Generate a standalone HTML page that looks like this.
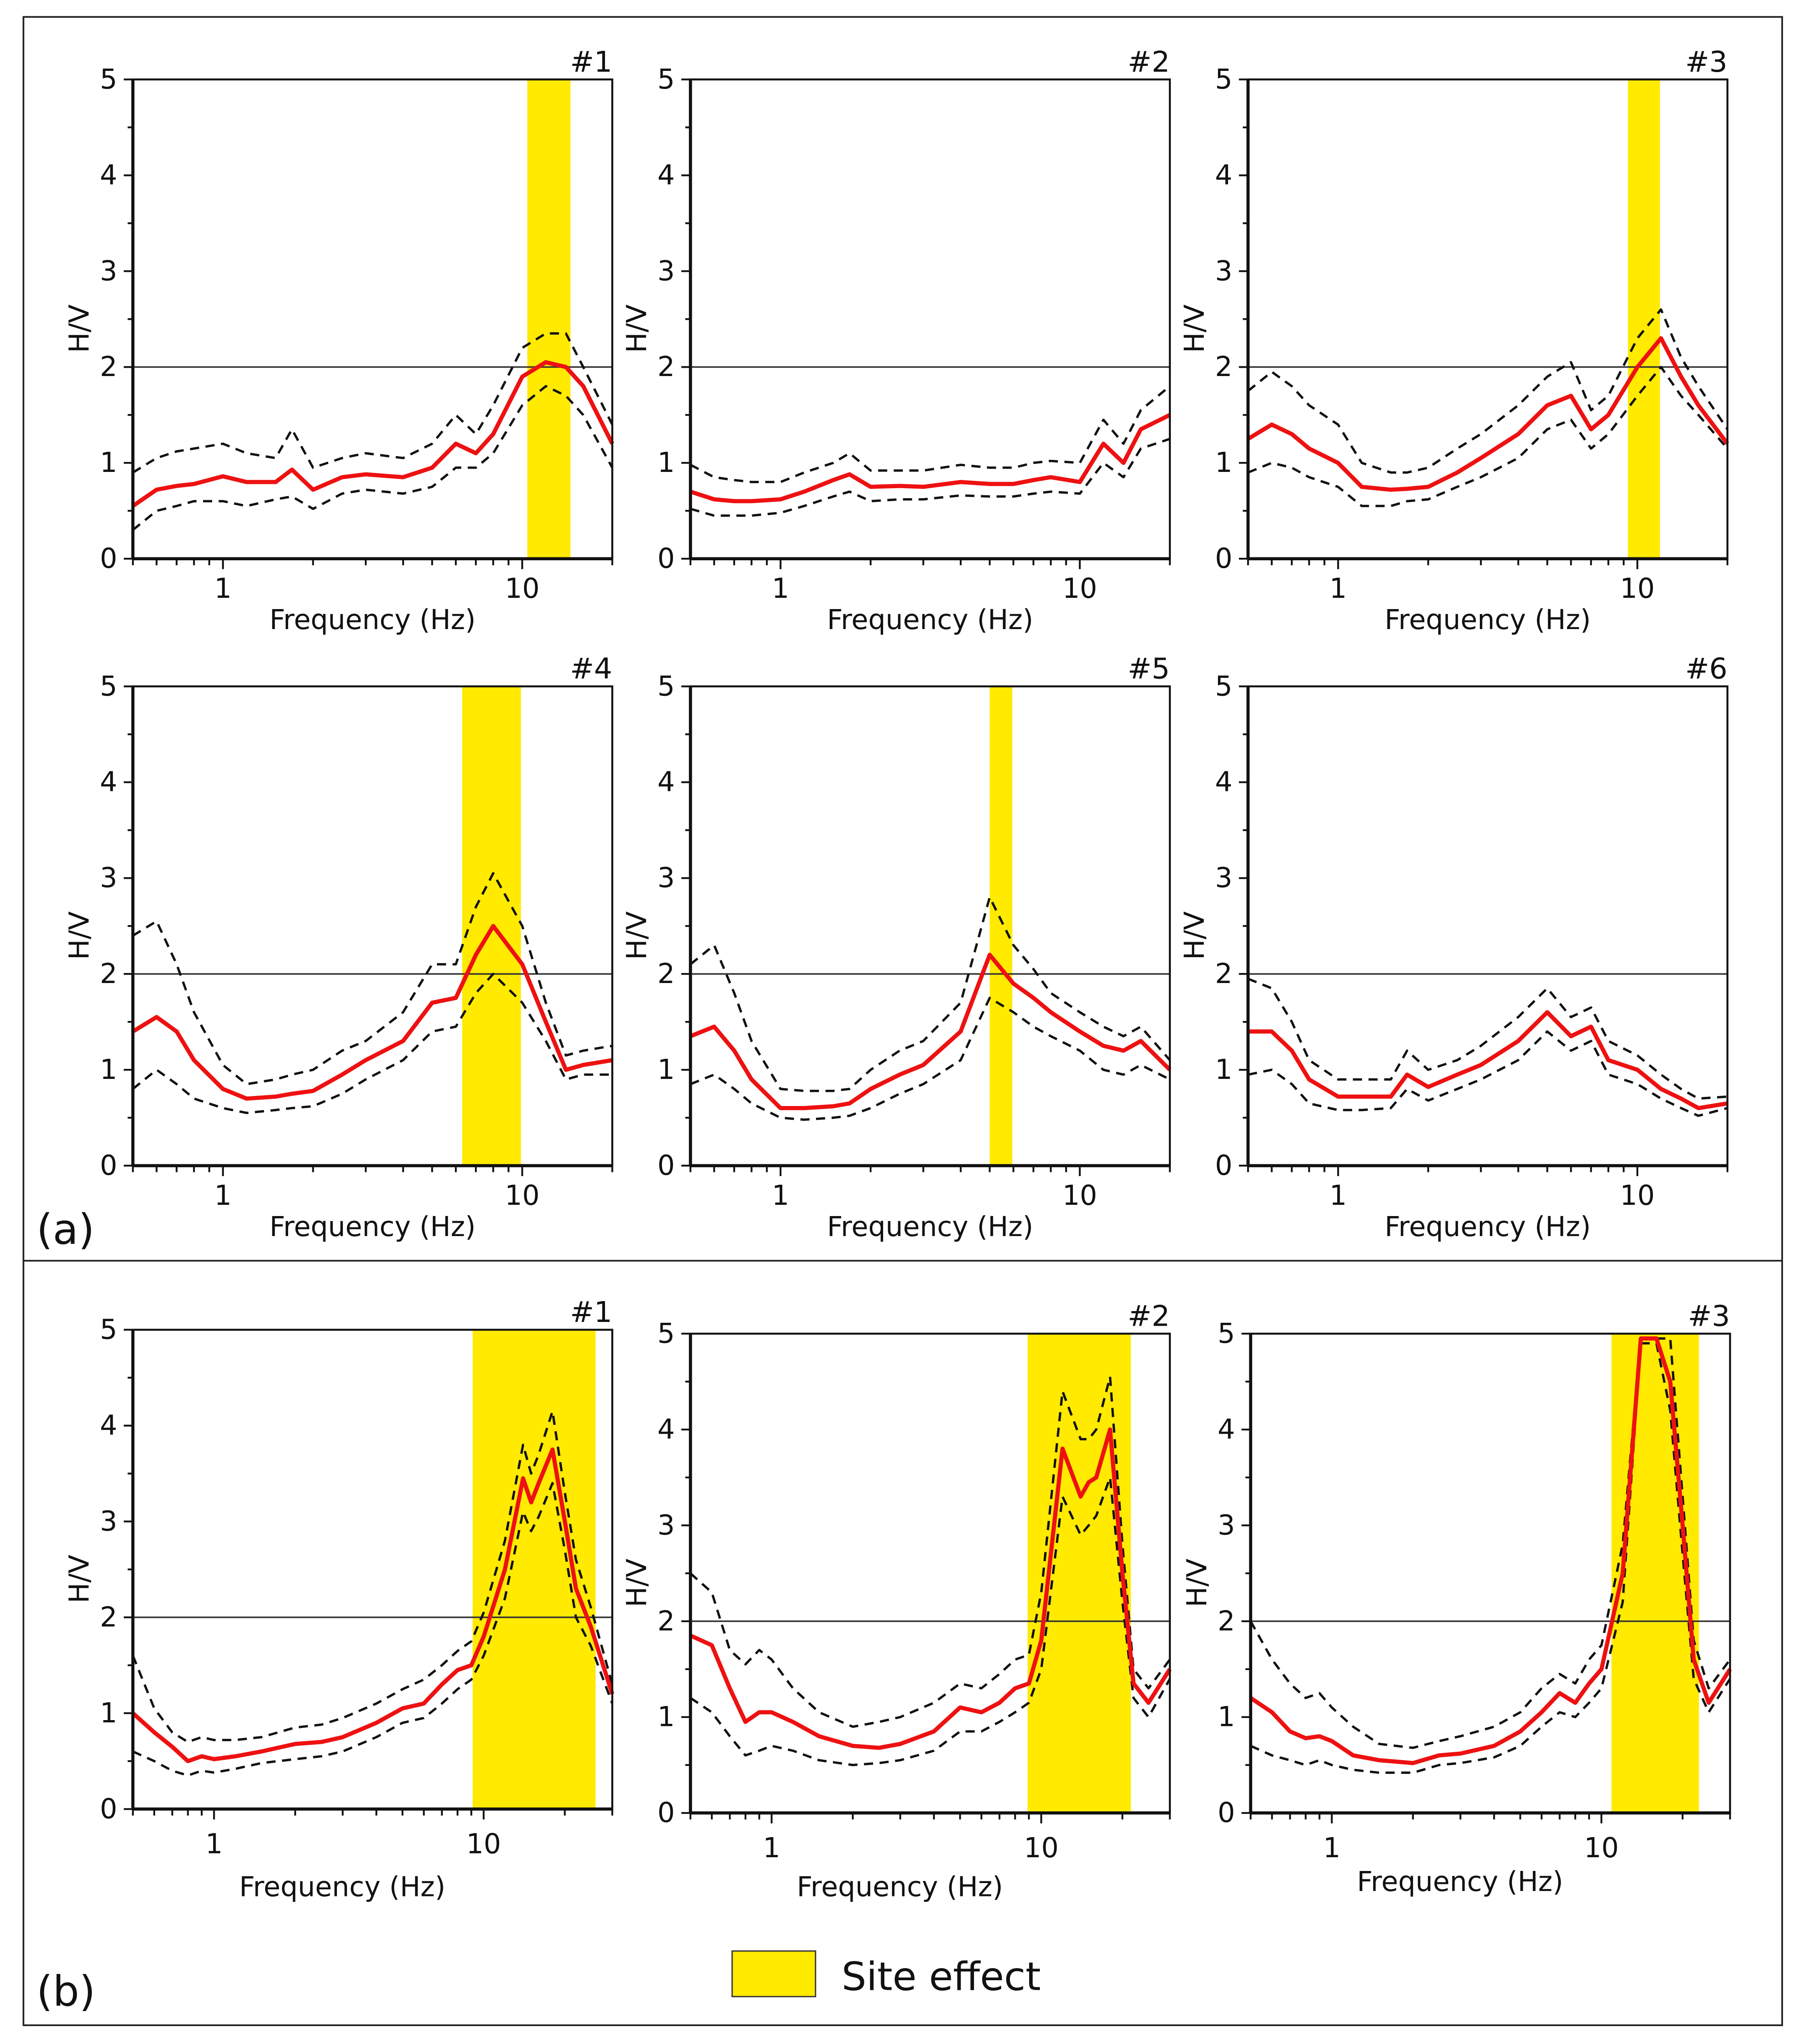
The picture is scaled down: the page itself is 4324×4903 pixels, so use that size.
<!DOCTYPE html>
<html><head><meta charset="utf-8"><style>
html,body{margin:0;padding:0;background:#fff}
svg{display:block}
text{font-family:"DejaVu Sans","Liberation Sans",sans-serif;fill:#111}
</style></head><body>
<svg id="fig" xmlns="http://www.w3.org/2000/svg" width="4324" height="4903" viewBox="0 0 1384 1569.4" preserveAspectRatio="none">
<rect x="18" y="13" width="1350" height="1542" fill="none" stroke="#222" stroke-width="1.3"/>
<line x1="18" y1="968" x2="1368" y2="968" stroke="#222" stroke-width="1.3"/>
<text x="28" y="955" font-size="32">(a)</text>
<text x="28" y="1540" font-size="32">(b)</text>
<rect x="562" y="1498" width="64" height="35" fill="#ffea00" stroke="#333" stroke-width="1"/>
<text x="646" y="1528" font-size="30">Site effect</text>
</svg>
<script>
const fA=[0.5,0.6,0.7,0.8,1,1.2,1.5,1.7,2,2.5,3,4,5,6,7,8,10,12,14,16,20];
const fB=[0.5,0.6,0.7,0.8,0.9,1,1.2,1.5,2,2.5,3,4,5,6,7,8,9,10,12,14,15,16,18,20,22,25,30];
const yTicks=[0,1,2,3,4,5];
const xTickLabels=[1,10];
const a1Mean=[0.55,0.72,0.76,0.78,0.86,0.8,0.8,0.93,0.72,0.85,0.88,0.85,0.95,1.2,1.1,1.3,1.9,2.05,2.0,1.8,1.2];
const a1Up=[0.9,1.05,1.12,1.15,1.2,1.1,1.05,1.35,0.95,1.05,1.1,1.05,1.2,1.5,1.3,1.6,2.2,2.35,2.35,2.0,1.4];
const a1Lo=[0.3,0.5,0.55,0.6,0.6,0.55,0.62,0.65,0.52,0.68,0.72,0.68,0.75,0.95,0.95,1.1,1.6,1.8,1.7,1.5,0.95];
const a2Mean=[0.7,0.62,0.6,0.6,0.62,0.7,0.82,0.88,0.75,0.76,0.75,0.8,0.78,0.78,0.82,0.85,0.8,1.2,1.0,1.35,1.5];
const a2Up=[0.98,0.85,0.82,0.8,0.8,0.9,1.0,1.1,0.92,0.92,0.92,0.98,0.95,0.95,1.0,1.02,1.0,1.45,1.2,1.55,1.8];
const a2Lo=[0.52,0.45,0.45,0.45,0.48,0.55,0.65,0.7,0.6,0.62,0.62,0.66,0.65,0.65,0.68,0.7,0.68,1.0,0.85,1.15,1.25];
const a3Mean=[1.25,1.4,1.3,1.15,1.0,0.75,0.72,0.73,0.75,0.9,1.05,1.3,1.6,1.7,1.35,1.5,2.0,2.3,1.9,1.6,1.2];
const a3Up=[1.75,1.95,1.8,1.6,1.4,1.0,0.9,0.9,0.95,1.15,1.3,1.6,1.9,2.05,1.55,1.7,2.3,2.6,2.1,1.8,1.35];
const a3Lo=[0.9,1.0,0.95,0.85,0.75,0.55,0.55,0.6,0.62,0.75,0.85,1.05,1.35,1.45,1.15,1.3,1.7,2.0,1.7,1.5,1.15];
const a4Mean=[1.4,1.55,1.4,1.1,0.8,0.7,0.72,0.75,0.78,0.95,1.1,1.3,1.7,1.75,2.2,2.5,2.1,1.5,1.0,1.05,1.1];
const a4Up=[2.4,2.55,2.1,1.6,1.05,0.85,0.9,0.95,1.0,1.2,1.3,1.6,2.1,2.1,2.7,3.05,2.5,1.7,1.15,1.2,1.25];
const a4Lo=[0.8,1.0,0.85,0.7,0.6,0.55,0.58,0.6,0.62,0.75,0.9,1.1,1.4,1.45,1.8,2.0,1.7,1.3,0.9,0.95,0.95];
const a5Mean=[1.35,1.45,1.2,0.9,0.6,0.6,0.62,0.65,0.8,0.95,1.05,1.4,2.2,1.9,1.75,1.6,1.4,1.25,1.2,1.3,1.0];
const a5Up=[2.1,2.3,1.8,1.3,0.8,0.78,0.78,0.8,1.0,1.2,1.3,1.7,2.8,2.3,2.05,1.8,1.6,1.45,1.35,1.45,1.1];
const a5Lo=[0.85,0.95,0.8,0.65,0.5,0.48,0.5,0.52,0.6,0.75,0.85,1.1,1.75,1.6,1.45,1.35,1.2,1.0,0.95,1.05,0.9];
const a6Mean=[1.4,1.4,1.2,0.9,0.72,0.72,0.72,0.95,0.82,0.95,1.05,1.3,1.6,1.35,1.45,1.1,1.0,0.8,0.7,0.6,0.65];
const a6Up=[1.95,1.85,1.5,1.1,0.9,0.9,0.9,1.2,1.0,1.1,1.25,1.55,1.85,1.55,1.65,1.3,1.15,0.95,0.8,0.7,0.72];
const a6Lo=[0.95,1.0,0.85,0.65,0.58,0.58,0.6,0.8,0.68,0.8,0.9,1.1,1.4,1.2,1.3,0.95,0.85,0.7,0.6,0.52,0.6];
const b1Mean=[1.0,0.8,0.65,0.5,0.55,0.52,0.55,0.6,0.68,0.7,0.75,0.9,1.05,1.1,1.3,1.45,1.5,1.8,2.5,3.45,3.2,3.4,3.75,3.0,2.3,1.9,1.2];
const b1Up=[1.6,1.05,0.8,0.7,0.75,0.72,0.72,0.75,0.85,0.88,0.95,1.1,1.25,1.35,1.5,1.65,1.75,2.05,2.8,3.8,3.5,3.7,4.15,3.3,2.6,2.1,1.3];
const b1Lo=[0.6,0.5,0.4,0.35,0.4,0.38,0.42,0.48,0.52,0.55,0.6,0.75,0.9,0.95,1.1,1.25,1.35,1.6,2.2,3.1,2.9,3.05,3.4,2.7,2.0,1.7,1.1];
const b2Mean=[1.85,1.75,1.3,0.95,1.05,1.05,0.95,0.8,0.7,0.68,0.72,0.85,1.1,1.05,1.15,1.3,1.35,1.8,3.8,3.3,3.45,3.5,4.0,2.5,1.35,1.15,1.5];
const b2Up=[2.5,2.3,1.7,1.55,1.7,1.6,1.3,1.05,0.9,0.95,1.0,1.15,1.35,1.3,1.45,1.6,1.65,2.3,4.4,3.9,3.9,4.0,4.55,2.8,1.5,1.3,1.6];
const b2Lo=[1.2,1.05,0.8,0.6,0.65,0.7,0.65,0.55,0.5,0.52,0.55,0.65,0.85,0.85,0.95,1.05,1.15,1.5,3.3,2.9,3.0,3.1,3.5,2.2,1.2,1.0,1.4];
const b3Mean=[1.2,1.05,0.85,0.78,0.8,0.75,0.6,0.55,0.52,0.6,0.62,0.7,0.85,1.05,1.25,1.15,1.35,1.5,2.5,4.95,4.95,4.95,4.5,3.0,1.6,1.15,1.5];
const b3Up=[2.0,1.6,1.35,1.2,1.25,1.1,0.9,0.72,0.68,0.75,0.8,0.9,1.05,1.3,1.45,1.35,1.6,1.75,2.8,4.95,4.95,4.95,4.95,3.3,1.8,1.3,1.6];
const b3Lo=[0.7,0.6,0.55,0.5,0.55,0.5,0.45,0.42,0.42,0.5,0.52,0.58,0.7,0.9,1.05,1.0,1.15,1.3,2.2,4.9,4.9,4.9,4.2,2.7,1.4,1.05,1.4];
const panels=[
 {id:'a1',x:102,y:61,fmax:20,f:fA,m:a1Mean,u:a1Up,l:a1Lo,band:[10.4,14.5],tOff:54},
 {id:'a2',x:530,y:61,fmax:20,f:fA,m:a2Mean,u:a2Up,l:a2Lo,band:null,tOff:54},
 {id:'a3',x:958,y:61,fmax:20,f:fA,m:a3Mean,u:a3Up,l:a3Lo,band:[9.3,11.9],tOff:54},
 {id:'a4',x:102,y:527,fmax:20,f:fA,m:a4Mean,u:a4Up,l:a4Lo,band:[6.3,9.9],tOff:54},
 {id:'a5',x:530,y:527,fmax:20,f:fA,m:a5Mean,u:a5Up,l:a5Lo,band:[5.0,5.95],tOff:54},
 {id:'a6',x:958,y:527,fmax:20,f:fA,m:a6Mean,u:a6Up,l:a6Lo,band:null,tOff:54},
 {id:'b1',x:102,y:1021,fmax:30,f:fB,m:b1Mean,u:b1Up,l:b1Lo,band:[9.1,26],tOff:67},
 {id:'b2',x:530,y:1024,fmax:30,f:fB,m:b2Mean,u:b2Up,l:b2Lo,band:[8.9,21.5],tOff:64},
 {id:'b3',x:960,y:1024,fmax:30,f:fB,m:b3Mean,u:b3Up,l:b3Lo,band:[10.9,23],tOff:60}
];
const labels=['#1','#2','#3','#4','#5','#6','#1','#2','#3'];
const NS='http://www.w3.org/2000/svg';
const svg=document.getElementById('fig');
function mk(tag,attrs,parent,txt){const e=document.createElementNS(NS,tag);for(const k in attrs)e.setAttribute(k,attrs[k]);if(txt!==undefined)e.textContent=txt;(parent||svg).appendChild(e);return e;}
panels.forEach((p,i)=>{
 const W=368,H=368,fmin=0.5;
 const lmin=Math.log10(fmin),lmax=Math.log10(p.fmax);
 const X=f=>p.x+(Math.log10(f)-lmin)/(lmax-lmin)*W;
 const Y=v=>p.y+H-v/5*H;
 const g=mk('g',{});
 
 
 if(p.band){const r=mk('rect',{x:X(p.band[0]),y:p.y,width:X(p.band[1])-X(p.band[0]),height:H,fill:'#ffea00'},g);
  
  }
 const hl=mk('line',{x1:p.x,x2:p.x+W,y1:Y(2),y2:Y(2),stroke:'#333','stroke-width':1.2},g);
 
 
 const path=arr=>arr.map((v,j)=>(j?'L':'M')+X(p.f[j]).toFixed(1)+','+Y(v).toFixed(1)).join('');
 [['u','upper-std-line'],['l','lower-std-line']].forEach(([k,n])=>{
  const e=mk('path',{d:path(p[k]),fill:'none',stroke:'#111','stroke-width':1.8,'stroke-dasharray':'7,5','stroke-linejoin':'round'},g);
  
  });
 const mln=mk('path',{d:path(p.m),fill:'none',stroke:'#ee1111','stroke-width':3.2,'stroke-linejoin':'round'},g);
 
 
 const fr=mk('rect',{x:p.x,y:p.y,width:W,height:H,fill:'none',stroke:'#111','stroke-width':1.5},g);
 
 
 mk('line',{x1:p.x,x2:p.x,y1:p.y,y2:p.y+H,stroke:'#111','stroke-width':2.4},g);
 mk('line',{x1:p.x,x2:p.x+W,y1:p.y+H,y2:p.y+H,stroke:'#111','stroke-width':2.4},g);
 for(let v=0;v<=5;v+=0.5){mk('line',{x1:p.x-(v%1?4:7),x2:p.x,y1:Y(v),y2:Y(v),stroke:'#111','stroke-width':1.4},g);}
 yTicks.forEach(v=>{const t=mk('text',{x:p.x-12,y:Y(v)+7,'font-size':21,'text-anchor':'end'},g,v);
  
  });
 [0.1,1,10].forEach(d=>{for(let k=1;k<10;k++){const f=d*k;if(f<fmin-1e-9||f>p.fmax+1e-9)continue;
  mk('line',{x1:X(f),x2:X(f),y1:p.y+H,y2:p.y+H+(k===1?8:5),stroke:'#111','stroke-width':1.4},g);}});
 xTickLabels.forEach(f=>{const t=mk('text',{x:X(f),y:p.y+H+(p.fmax>20?34:30),'font-size':21,'text-anchor':'middle'},g,f);
  
  });
 const xt=mk('text',{x:(X(1)+X(10))/2+(p.fmax>20?-5:0),y:p.y+H+p.tOff,'font-size':21,'text-anchor':'middle'},g,'Frequency (Hz)');
 
 
 const yt=mk('text',{x:0,y:0,'font-size':21,'text-anchor':'middle',transform:`translate(${p.x-34},${p.y+H*0.52}) rotate(-90)`},g,'H/V');
 
 
 const pl=mk('text',{x:p.x+W,y:p.y-6,'font-size':22,'text-anchor':'end'},g,labels[i]);
 
 
});
</script>
</body></html>
